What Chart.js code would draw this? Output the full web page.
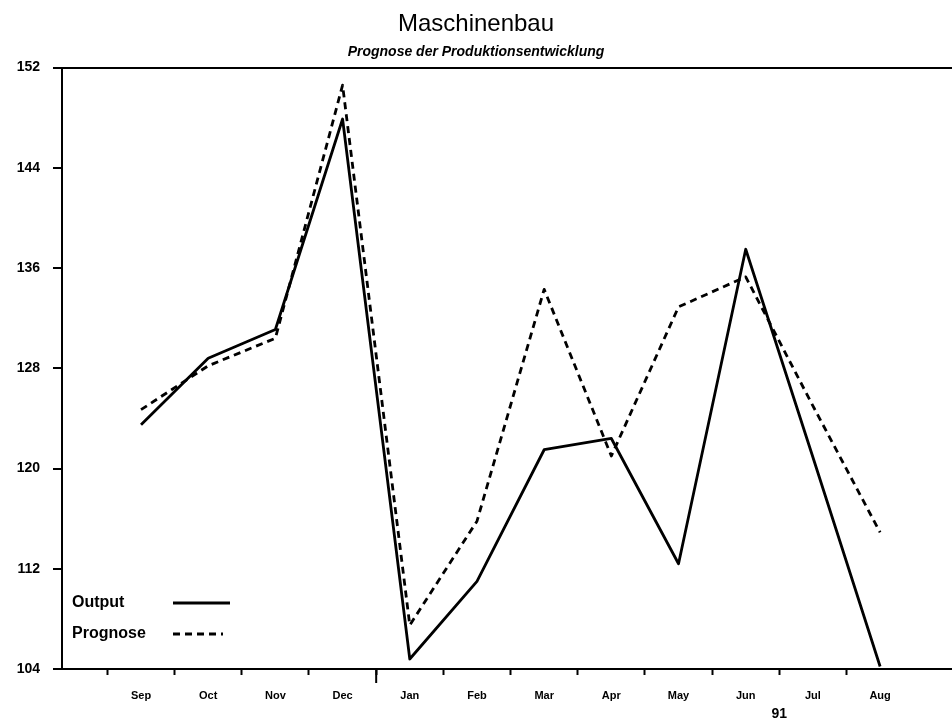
<!DOCTYPE html>
<html>
<head>
<meta charset="utf-8">
<title>Maschinenbau</title>
<script src="https://cdn.jsdelivr.net/npm/chart.js@4.4.0/dist/chart.umd.min.js"></script>
<style>
  html, body { margin: 0; padding: 0; background: #fff; }
  #wrap { width: 952px; height: 724px; position: relative; }
</style>
</head>
<body>
<div id="wrap"><canvas id="prodChart"></canvas></div>
<script>
// Months of the forecast period (Sep 90 .. Aug 91)
const months = ["Sep", "Oct", "Nov", "Dec", "Jan", "Feb", "Mar", "Apr", "May", "Jun", "Jul", "Aug"];
const outputValues = [123.5, 128.8, 131.1, 147.9, 104.8, 111.0, 121.5, 122.4, 112.4, 137.5, 120.9, 104.2];
const prognoseValues = [124.7, 128.2, 130.4, 150.6, 107.5, 115.8, 134.3, 121.0, 132.9, 135.3, 125.0, 114.9];
const yTicks = [104, 112, 120, 128, 136, 144, 152];
const yearLabel = "91";
const yearLabelAt = 9.5;     // printed below, between Jun and Jul
const yearBoundary = 3.5;    // Dec / Jan turn of the year

const FONT = "'Liberation Sans', Arial, sans-serif";

function toPoints(values) {
  return values.map((v, i) => ({ x: i, y: v }));
}

// legend drawn like the original: label text first, line sample after it
const sideLegend = {
  id: "sideLegend",
  afterDraw(chart) {
    const ctx = chart.ctx;
    const area = chart.chartArea;
    const rows = [
      { ds: chart.data.datasets[0], y: area.bottom - 66, len: 57 },
      { ds: chart.data.datasets[1], y: area.bottom - 35, len: 50 },
    ];
    ctx.save();
    ctx.fillStyle = "#000";
    ctx.font = "bold 16px " + FONT;
    ctx.textBaseline = "middle";
    rows.forEach((row) => {
      ctx.fillText(row.ds.label, area.left + 10, row.y);
      ctx.beginPath();
      ctx.setLineDash(row.ds.borderDash || []);
      ctx.lineWidth = row.ds.borderWidth;
      ctx.strokeStyle = row.ds.borderColor;
      ctx.moveTo(area.left + 111, row.y);
      ctx.lineTo(area.left + 111 + row.len, row.y);
      ctx.stroke();
    });
    ctx.restore();
  },
};

// longer tick mark at the turn of the year
const yearMark = {
  id: "yearMark",
  afterDraw(chart) {
    const ctx = chart.ctx;
    const x = chart.scales.x.getPixelForValue(yearBoundary);
    const bottom = chart.chartArea.bottom;
    ctx.save();
    ctx.strokeStyle = "#000";
    ctx.lineWidth = 2;
    ctx.beginPath();
    ctx.moveTo(x, bottom);
    ctx.lineTo(x, bottom + 14);
    ctx.stroke();
    ctx.restore();
  },
};

const ctx = document.getElementById("prodChart").getContext("2d");
const prodChart = new Chart(ctx, {
  type: "line",
  data: {
    datasets: [
      {
        label: "Output",
        data: toPoints(outputValues),
        borderColor: "#000",
        borderWidth: 2.8,
        borderJoinStyle: "round",
        pointRadius: 0,
        tension: 0,
      },
      {
        label: "Prognose",
        data: toPoints(prognoseValues),
        borderColor: "#000",
        borderWidth: 2.8,
        borderDash: [7, 5],
        borderJoinStyle: "round",
        pointRadius: 0,
        tension: 0,
      },
    ],
  },
  options: {
    responsive: true,
    maintainAspectRatio: false,
    animation: false,
    layout: { padding: 0 },
    plugins: {
      legend: { display: false },
      tooltip: { enabled: false },
      title: {
        display: true,
        text: "Maschinenbau",
        color: "#000",
        font: { family: FONT, size: 24, weight: "normal" },
        padding: { top: 10, bottom: 0 },
      },
      subtitle: {
        display: true,
        text: "Prognose der Produktionsentwicklung",
        color: "#000",
        font: { family: FONT, size: 14, weight: "bold", style: "italic" },
        padding: { top: 5, bottom: 7 },
      },
    },
    scales: {
      x: {
        type: "linear",
        min: -1.176,
        max: 12.07,
        afterFit: (scale) => { scale.height = 55; },
        afterBuildTicks: (axis) => {
          const ticks = [];
          months.forEach((m, i) => {
            ticks.push({ value: i });
            if (i < months.length - 1) ticks.push({ value: i - 0.5 });
          });
          ticks.push({ value: months.length - 1.5 });
          axis.ticks = ticks
            .filter((t, idx, arr) => arr.findIndex((o) => o.value === t.value) === idx)
            .sort((a, b) => a.value - b.value);
        },
        border: { display: true, color: "#000", width: 2 },
        grid: {
          display: true,
          drawOnChartArea: false,
          drawTicks: true,
          tickLength: 6,
          tickWidth: 2,
          tickColor: (c) => (Number.isInteger(c.tick.value) ? "rgba(0,0,0,0)" : "#000"),
        },
        ticks: {
          autoSkip: false,
          maxRotation: 0,
          padding: 14,
          color: "#000",
          font: (c) =>
            c.tick && c.tick.value === yearLabelAt
              ? { family: FONT, size: 14, weight: "bold" }
              : { family: FONT, size: 11, weight: "bold" },
          callback: (value) => {
            if (Number.isInteger(value)) return months[value];
            if (value === yearLabelAt) return ["", yearLabel];
            return "";
          },
        },
      },
      y: {
        min: 104,
        max: 152,
        afterFit: (scale) => { scale.width = 62; },
        afterBuildTicks: (axis) => {
          axis.ticks = yTicks.map((v) => ({ value: v }));
        },
        border: { display: true, color: "#000", width: 2 },
        grid: {
          display: true,
          drawOnChartArea: true,
          tickLength: 9,
          lineWidth: 2,
          tickWidth: 2,
          color: (c) => (c.tick && c.tick.value === 152 ? "#000" : "rgba(0,0,0,0)"),
          tickColor: "#000",
        },
        ticks: {
          padding: 13,
          color: "#000",
          font: { family: FONT, size: 14, weight: "bold" },
        },
      },
    },
  },
  plugins: [sideLegend, yearMark],
});
</script>
</body>
</html>
